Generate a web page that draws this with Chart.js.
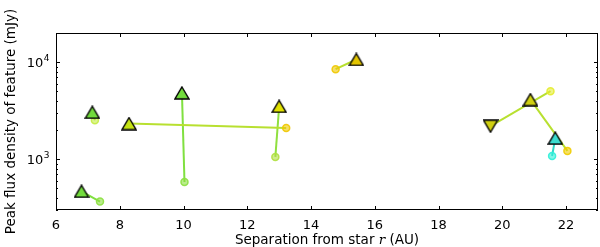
<!DOCTYPE html>
<html>
<head>
<meta charset="utf-8">
<script src="https://cdn.jsdelivr.net/npm/chart.js@4"></script>
<style>
html, body { margin: 0; padding: 0; background: #fff; }
</style>
</head>
<body>
<canvas id="grafico" width="600" height="247"></canvas>
<script>
// features: triangle = peak position, circle = other epoch, joined by a line
const triX = [6.80, 7.14, 8.29, 9.95, 13.00, 15.42, 19.63, 20.88, 21.66];
const triY = [468, 3050, 2330, 4830, 3510, 10670, 2190, 4120, 1650];
const triDir = ['up', 'up', 'up', 'up', 'up', 'up', 'down', 'up', 'up'];
const circX = [7.38, 7.22, 13.22, 10.03, 12.88, 14.77, 21.51, 22.04, 21.56];
const circY = [366, 2520, 2100, 583, 1057, 8470, 5030, 1220, 1080];

const xTicks = [6, 8, 10, 12, 14, 16, 18, 20, 22];
const yMajor = [1000, 10000];
const yMinor = [300, 400, 500, 600, 700, 800, 900, 2000, 3000, 4000, 5000, 6000, 7000, 8000, 9000];

// colours
const triColor = ['#72dc3c', '#72dc3c', '#c6e414', '#72dc3c', '#e2e200', '#e4c600', '#d0d010', '#d0d010', '#3cdcd0'];
const circColor = ['#8ce040', '#c4ec44', '#f0c800', '#8ce040', '#b0e040', '#f0c800', '#e4ec30', '#f0cc00', '#30f0d8'];
const lineColor = ['#80e040', '#80e040', '#b8e030', '#80e040', '#90e040', '#b8e030', '#b8e030', '#b8e030', '#30d8c8'];

function hacerTriangulo(color, dir) {
    const w = 16, h = 14;
    const c = document.createElement('canvas');
    c.width = w; c.height = h;
    const g = c.getContext('2d');
    g.beginPath();
    if (dir === 'up') {
        g.moveTo(w / 2, 1); g.lineTo(w - 1, h - 1); g.lineTo(1, h - 1);
    } else {
        g.moveTo(w / 2, h - 1); g.lineTo(w - 1, 1); g.lineTo(1, 1);
    }
    g.closePath();
    g.fillStyle = color;
    g.fill();
    g.lineWidth = 1.4;
    g.strokeStyle = '#000';
    g.lineJoin = 'miter';
    g.stroke();
    return c;
}

function conAlfa(hex, a) {
    const n = parseInt(hex.slice(1), 16);
    return `rgba(${n >> 16}, ${(n >> 8) & 255}, ${n & 255}, ${a})`;
}

const datasets = [];
datasets.push({
    label: 'peak',
    data: triX.map((x, i) => ({ x: x, y: triY[i] })),
    pointStyle: triX.map((x, i) => hacerTriangulo(triColor[i], triDir[i])),
    pointRadius: 8,
    showLine: false,
    order: 0
});
datasets.push({
    label: 'other',
    data: circX.map((x, i) => ({ x: x, y: circY[i] })),
    pointStyle: 'circle',
    pointRadius: 3.5,
    backgroundColor: circColor.map(c => conAlfa(c, 0.6)),
    borderColor: circColor.map(c => conAlfa(c, 0.9)),
    borderWidth: 1.5,
    showLine: false,
    order: 1
});
triX.forEach((x, i) => {
    datasets.push({
        label: 'link' + i,
        data: [{ x: x, y: triY[i] }, { x: circX[i], y: circY[i] }],
        showLine: true,
        pointRadius: 0,
        borderColor: lineColor[i],
        borderWidth: 2,
        order: 2
    });
});

const FONT = 'DejaVu Sans';

const marco = {
    id: 'marco',
    afterDraw(chart) {
        const ctx = chart.ctx;
        const a = chart.chartArea;
        const sx = chart.scales.x, sy = chart.scales.y;
        ctx.save();
        ctx.strokeStyle = '#000';
        ctx.lineWidth = 1;
        ctx.strokeRect(a.left + 0.5, a.top + 0.5, a.right - a.left - 1, a.bottom - a.top - 1);

        ctx.beginPath();
        xTicks.forEach(v => {
            const px = Math.round(sx.getPixelForValue(v)) + 0.5;
            ctx.moveTo(px, a.bottom); ctx.lineTo(px, a.bottom - 4);
            ctx.moveTo(px, a.top); ctx.lineTo(px, a.top + 4);
        });
        yMajor.forEach(v => {
            const py = Math.round(sy.getPixelForValue(v)) + 0.5;
            ctx.moveTo(a.left, py); ctx.lineTo(a.left + 4, py);
            ctx.moveTo(a.right, py); ctx.lineTo(a.right - 4, py);
        });
        yMinor.forEach(v => {
            const py = Math.round(sy.getPixelForValue(v)) + 0.5;
            ctx.moveTo(a.left, py); ctx.lineTo(a.left + 2, py);
            ctx.moveTo(a.right, py); ctx.lineTo(a.right - 2, py);
        });
        ctx.stroke();

        // y labels 10^n
        ctx.fillStyle = '#000';
        yMajor.forEach(v => {
            const py = sy.getPixelForValue(v);
            const exp = String(Math.round(Math.log10(v)));
            ctx.font = '13px "' + FONT + '"';
            ctx.textBaseline = 'middle';
            ctx.textAlign = 'left';
            const wBase = ctx.measureText('10').width;
            ctx.font = '9px "' + FONT + '"';
            const wExp = ctx.measureText(exp).width;
            const x0 = a.left - 7 - wBase - wExp;
            ctx.font = '13px "' + FONT + '"';
            ctx.fillText('10', x0, py + 1);
            ctx.font = '9px "' + FONT + '"';
            ctx.fillText(exp, x0 + wBase + 0.5, py - 4);
        });

        // x title with italic r
        const p1 = 'Separation from star ', p2 = 'r', p3 = ' (AU)';
        const tf = '13.5px "' + FONT + '"', rf = 'italic 13.5px "DejaVu Serif"';
        ctx.textBaseline = 'alphabetic';
        ctx.font = tf;
        const w1 = ctx.measureText(p1).width, w3 = ctx.measureText(p3).width;
        ctx.font = rf;
        const w2 = ctx.measureText(p2).width;
        let xs = (a.left + a.right) / 2 - (w1 + w2 + w3) / 2;
        const yb = 244;
        ctx.font = tf;
        ctx.fillText(p1, xs, yb); xs += w1;
        ctx.font = rf;
        ctx.fillText(p2, xs, yb); xs += w2;
        ctx.font = tf;
        ctx.fillText(p3, xs, yb);

        // y title
        ctx.translate(11, (a.top + a.bottom) / 2);
        ctx.rotate(-Math.PI / 2);
        ctx.textAlign = 'center';
        ctx.textBaseline = 'middle';
        ctx.font = tf;
        ctx.fillText('Peak flux density of feature (mJy)', 0, 0);
        ctx.restore();
    }
};

const ctx = document.getElementById('grafico').getContext('2d');
const miGrafico = new Chart(ctx, {
    type: 'scatter',
    data: { datasets: datasets },
    options: {
        responsive: false,
        animation: false,
        layout: { autoPadding: false, padding: { top: 33, right: 2, left: 0, bottom: 0 } },
        plugins: { legend: { display: false }, tooltip: { enabled: false } },
        scales: {
            x: {
                type: 'linear',
                min: 6,
                max: 23,
                afterBuildTicks: s => { s.ticks = xTicks.map(v => ({ value: v })); },
                afterFit: s => { s.height = 37; s.paddingLeft = 0; s.paddingRight = 0; },
                grid: { display: false, drawTicks: false },
                border: { display: false },
                ticks: { color: '#000', padding: 8, font: { family: FONT, size: 13 }, maxRotation: 0 }
            },
            y: {
                type: 'logarithmic',
                min: 300,
                max: 20000,
                afterFit: s => { s.width = 56; s.paddingTop = 0; s.paddingBottom = 0; },
                grid: { display: false, drawTicks: false },
                border: { display: false },
                ticks: { display: false }
            }
        }
    },
    plugins: [marco]
});
</script>
</body>
</html>
